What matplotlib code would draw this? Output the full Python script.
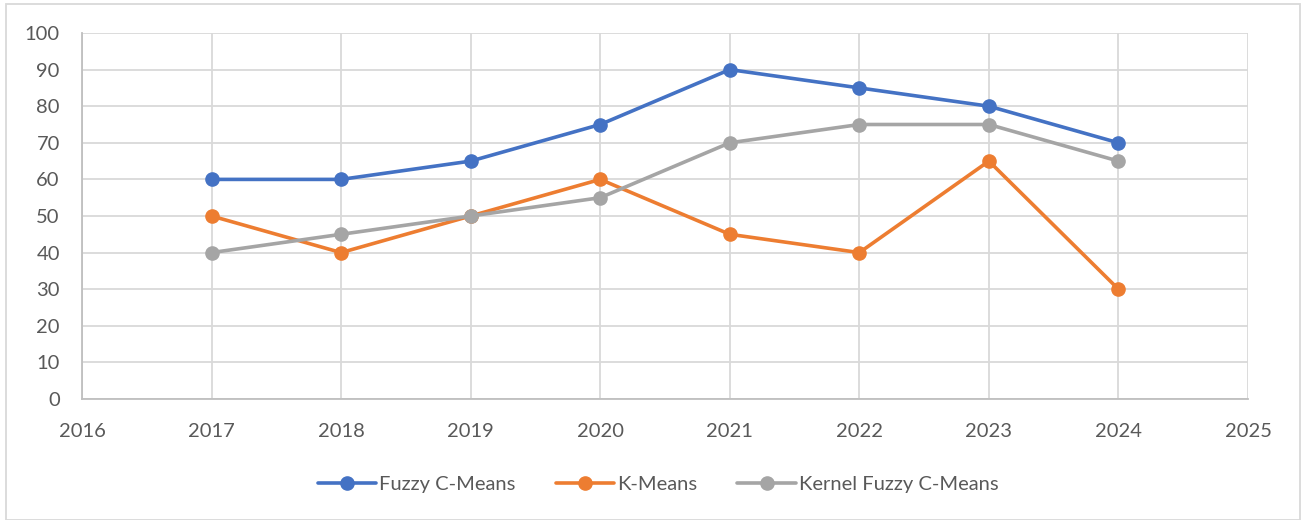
import matplotlib
matplotlib.use("Agg")
import matplotlib.pyplot as plt
from matplotlib.patches import Rectangle

years = [2017, 2018, 2019, 2020, 2021, 2022, 2023, 2024]
fuzzy = [60, 60, 65, 75, 90, 85, 80, 70]
kmeans = [50, 40, 50, 60, 45, 40, 65, 30]
kernel = [40, 45, 50, 55, 70, 75, 75, 65]
series_names = ["Fuzzy C-Means", "K-Means", "Kernel Fuzzy C-Means"]
colors = ["#4472C4", "#ED7D31", "#A5A5A5"]

plt.rcParams['font.family'] = ['Lato', 'DejaVu Sans']

fig = plt.figure(figsize=(13.01, 5.2), dpi=100)
ax = fig.add_axes([82/1301, 1-399/520, (1248-82)/1301, (399-33)/520])

for vals, name, c in zip([fuzzy, kmeans, kernel], series_names, colors):
    ax.plot(years, vals, color=c, lw=2.6, marker='o', markersize=9.5, label=name,
            solid_capstyle='round', zorder=3)

ax.set_xlim(2016, 2025)
ax.set_ylim(0, 100)
ax.set_xticks(range(2016, 2026))
ax.set_yticks(range(0, 101, 10))
ax.grid(True, color="#D9D9D9", lw=1.3)
ax.set_axisbelow(True)
for s in ['top', 'right']:
    ax.spines[s].set_visible(False)
for s in ['left', 'bottom']:
    ax.spines[s].set_color("#BFBFBF")
    ax.spines[s].set_linewidth(1.3)
ax.tick_params(length=0, labelsize=14.5, colors="#595959")
ax.tick_params(axis='x', pad=17)
ax.tick_params(axis='y', pad=16)

leg = fig.legend(loc='center', bbox_to_anchor=(658/1301, 1-484/520), ncol=3, frameon=False,
                 fontsize=14.5, handlelength=2.9, columnspacing=2.0, handletextpad=0.15)
for t in leg.get_texts():
    t.set_color("#595959")

fig.patches.append(Rectangle((6/1301, 0), 1 - 6/1301 - 1/1301, 1 - 4/520, transform=fig.transFigure,
                             fill=False, edgecolor="#D9D9D9", lw=1.3))

fig.savefig("out.png", dpi=100)
